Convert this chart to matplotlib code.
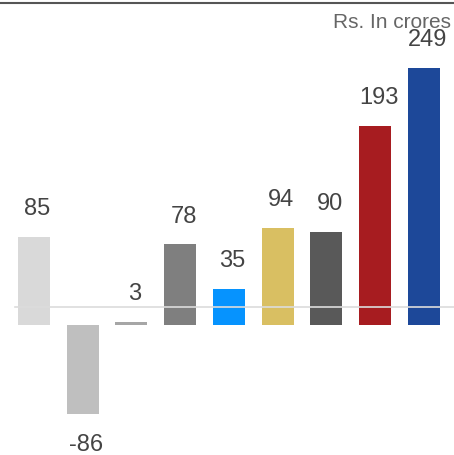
import matplotlib
matplotlib.use("Agg")
import matplotlib.pyplot as plt

categories = ["A", "B", "C", "D", "E", "F", "G", "H", "I"]
values = [85, -86, 3, 78, 35, 94, 90, 193, 249]
colors = ["#d9d9d9", "#bfbfbf", "#a6a6a6", "#7f7f7f", "#0693fe",
          "#d9bf62", "#595959", "#a71c20", "#1d4899"]
unit_label = "Rs. In crores"

plt.rcParams['font.family'] = ['Liberation Sans', 'DejaVu Sans']

fig = plt.figure(figsize=(4.54, 4.55), dpi=100)
ax = fig.add_axes([0, 0, 1, 1])
x = list(range(len(values)))
ax.bar(x, values, width=0.656, color=colors, zorder=2)
ax.set_xlim(-0.697, -0.697 + 454 / 48.75)
ax.set_ylim(-130 / 1.033, 325 / 1.033)
ax.axhline(17.4, xmin=15 / 454, xmax=1, color="#dcdcdc", lw=1.2, zorder=3)

for xi, v in zip(x, values):
    if v >= 0:
        ax.text(xi + 0.07, v + 27, str(v), ha="center", va="center",
                fontsize=17, color="#444444")
    else:
        ax.text(xi + 0.07, v - 30, str(v), ha="center", va="center",
                fontsize=17, color="#444444")

ax.axis("off")
fig.add_artist(plt.Line2D([0, 1], [1 - 2.5 / 455, 1 - 2.5 / 455],
                          color="#555555", lw=1.5, transform=fig.transFigure))
fig.text(451 / 454, 1 - 22 / 455, unit_label, ha="right", va="center",
         fontsize=15, color="#666666")
fig.savefig("out.png", dpi=100)
